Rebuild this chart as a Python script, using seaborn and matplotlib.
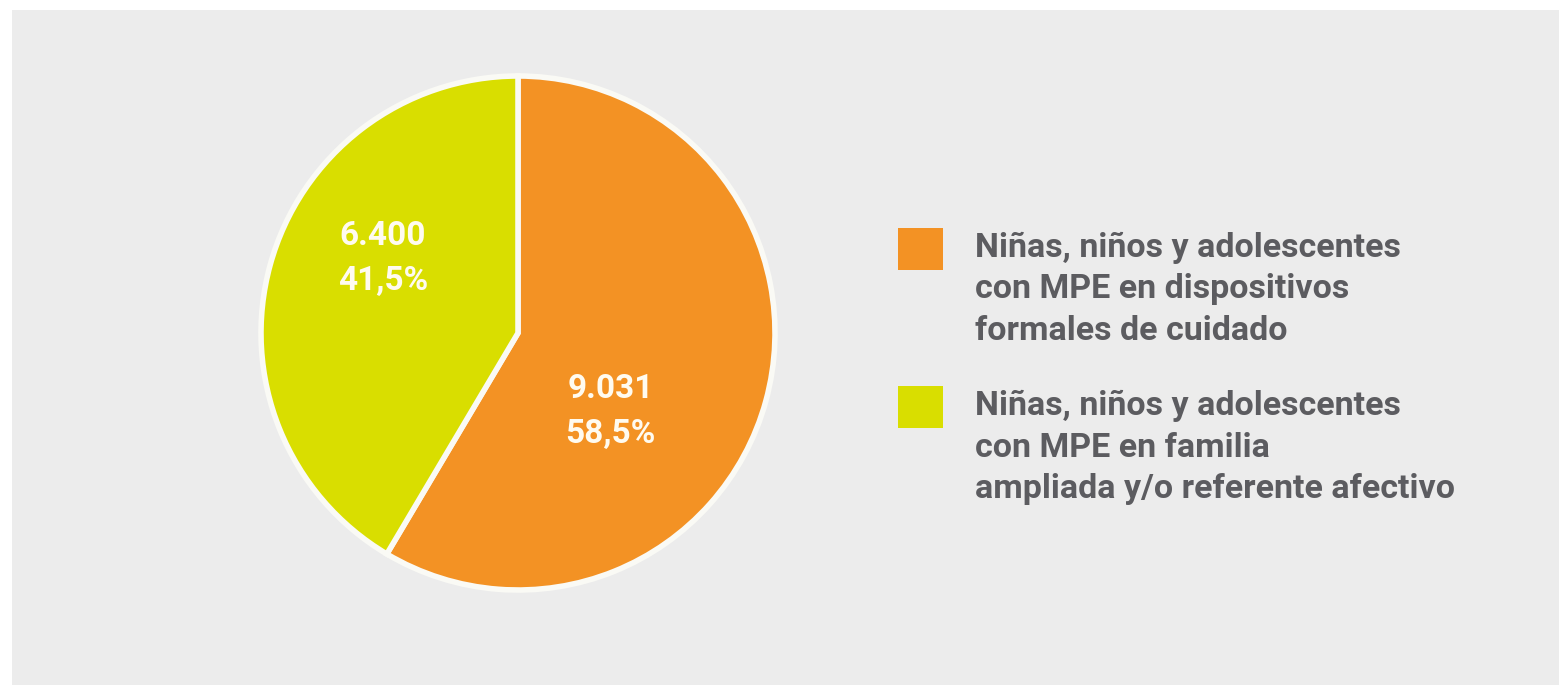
import matplotlib
matplotlib.use('Agg')
import matplotlib.pyplot as plt
from matplotlib.patches import Rectangle
from matplotlib.legend_handler import HandlerPatch
import seaborn as sns

# ── DATA ──────────────────────────────────────────────────────────────────────
categories = [
    'Niñas, niños y adolescentes\ncon MPE en dispositivos\nformales de cuidado',
    'Niñas, niños y adolescentes\ncon MPE en familia\nampliada y/o referente afectivo',
]
counts = [9031, 6400]
count_labels = ['9.031', '6.400']
pct_labels = ['58,5%', '41,5%']
colors = ['#F39224', '#D9DE00']

# label anchor points inside the pie (radius units) – placed by hand like the original
label_pos = [(0.36, -0.305), (-0.525, 0.29)]

sns.set_theme(style='white')
plt.rcParams['font.family'] = ['Roboto', 'DejaVu Sans']

W, H = 1559, 685
fig = plt.figure(figsize=(W / 100, H / 100), dpi=100, facecolor='white')

# gray panel behind everything
fig.patches.append(Rectangle((12 / W, 0), 1 - 12 / W, 1 - 10 / H,
                             transform=fig.transFigure, facecolor='#ECECEC',
                             edgecolor='none', zorder=-5))

# ── PIE ───────────────────────────────────────────────────────────────────────
cx, cy, r = 518, 333, 257
ax = fig.add_axes([(cx - r) / W, (H - cy - r) / H, 2 * r / W, 2 * r / H])
ax.set_facecolor('none')
ax.set_zorder(2)

wedges, _ = ax.pie(
    counts, colors=colors, startangle=90, counterclock=False,
    wedgeprops=dict(edgecolor='#FAFAF5', linewidth=4),
)
ax.set_xlim(-1, 1)
ax.set_ylim(-1, 1)
ax.set_aspect('equal')
ax.axis('off')

for (x, y), c, p in zip(label_pos, count_labels, pct_labels):
    ax.text(x, y, f'{c}\n{p}', ha='center', va='center', color='#FFFBF0',
            fontsize=24, fontweight='bold', linespacing=1.5)


# ── LEGEND ────────────────────────────────────────────────────────────────────
# square sits next to the first line of each label, not the middle one
def top_square(legend, orig_handle, xdescent, ydescent, width, height, fontsize):
    return Rectangle((-xdescent, -ydescent + 30), width, height)


leg = fig.legend(
    wedges, categories, loc='upper left',
    bbox_to_anchor=(898 / W, 1 - 232 / H),
    frameon=False, fontsize=24.5, handlelength=1.32, handleheight=1.5,
    handletextpad=0.94, labelspacing=1.28, borderpad=0, borderaxespad=0,
    handler_map={matplotlib.patches.Wedge: HandlerPatch(patch_func=top_square)},
)
for t in leg.get_texts():
    t.set_color('#5C5C60')
    t.set_linespacing(1.37)
    t.set_fontweight('bold')
for h in leg.legend_handles:
    h.set_edgecolor('none')
    h.set_linewidth(0)

plt.savefig('out.png', dpi=100, facecolor='white')
plt.close()
